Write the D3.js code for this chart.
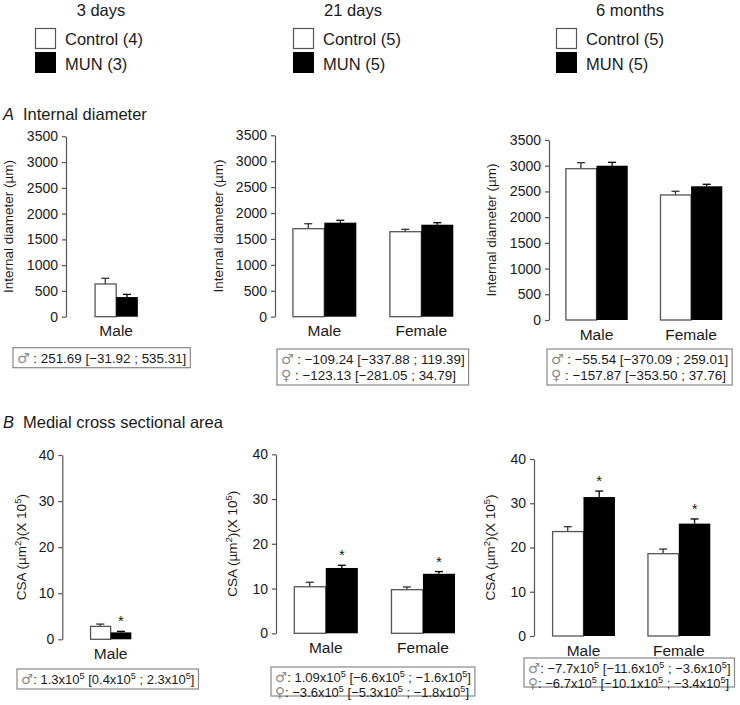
<!DOCTYPE html>
<html><head><meta charset="utf-8">
<script src="https://cdn.jsdelivr.net/npm/d3@7"></script>
<style>
body{margin:0;background:#fff}
text{font-family:"Liberation Sans",Arial,Helvetica,sans-serif;fill:#1a1a1a}
</style>
</head><body>
<svg id="chart" width="740" height="705"></svg>
<script>
// ---------------- DATA ----------------
const series = ["Control", "MUN"];
const timepoints = ["3 days", "21 days", "6 months"];
const legendControl = ["Control (4)", "Control (5)", "Control (5)"];
const legendMun = ["MUN (3)", "MUN (5)", "MUN (5)"];

const cats3d = ["Male"];
const cats21d = ["Male", "Female"];
const cats6m = ["Male", "Female"];

const idTicks = [0, 500, 1000, 1500, 2000, 2500, 3000, 3500];
const csaTicks = [0, 10, 20, 30, 40];

// Internal diameter (µm)
const idControl3d = [635];   const idControlErr3d = [110];
const idMun3d = [381];       const idMunErr3d = [52];
const idControl21d = [1698, 1640]; const idControlErr21d = [96, 46];
const idMun21d = [1814, 1775];     const idMunErr21d = [46, 39];
const idControl6m = [2942, 2431];  const idControlErr6m = [117, 72];
const idMun6m = [3000, 2600];      const idMunErr6m = [66, 39];

// Medial CSA (µm² x10^5)
const csaControl3d = [2.8];  const csaControlErr3d = [0.5];
const csaMun3d = [1.5];      const csaMunErr3d = [0.22];
const csaControl21d = [10.4, 9.75]; const csaControlErr21d = [1.0, 0.6];
const csaMun21d = [14.6, 13.3];     const csaMunErr21d = [0.6, 0.5];
const csaControl6m = [23.6, 18.6];  const csaControlErr6m = [1.1, 1.05];
const csaMun6m = [31.4, 25.4];      const csaMunErr6m = [1.35, 1.05];
const csaSig3d = [true];
const csaSig21d = [true, true];
const csaSig6m = [true, true];

const statsA3d = ["♂ : 251.69 [−31.92 ; 535.31]"];
const statsA21d = ["♂ : −109.24 [−337.88 ; 119.39]", "♀ : −123.13 [−281.05 ; 34.79]"];
const statsA6m = ["♂ : −55.54 [−370.09 ; 259.01]", "♀ : −157.87 [−353.50 ; 37.76]"];
const statsB3d = ["♂: 1.3x10^5 [0.4x10^5 ; 2.3x10^5]"];
const statsB21d = ["♂: 1.09x10^5 [−6.6x10^5 ; −1.6x10^5]", "♀: −3.6x10^5 [−5.3x10^5 ; −1.8x10^5]"];
const statsB6m = ["♂: −7.7x10^5 [−11.6x10^5 ; −3.6x10^5]", "♀: −6.7x10^5 [−10.1x10^5 ; −3.4x10^5]"];

const idLabel = "Internal diameter (µm)";
const csaLabel = "CSA (µm^2)(X 10^5)";
const titleA = ["A", "Internal diameter"];
const titleB = ["B", "Medial cross sectional area"];

// ---------------- DRAW ----------------
const svg = d3.select("#chart");

function rich(sel, str, fs) {
  const parts = str.split(/(\^\d|[♂♀])/).filter(s => s.length);
  let sup = false;
  parts.forEach(p => {
    if (p[0] === "^") {
      sel.append("tspan").attr("dy", -fs * 0.38).style("font-size", (fs * 0.7) + "px").text(p.slice(1));
      sup = true;
    } else if (p === "♂" || p === "♀") {
      const t = sel.append("tspan").attr("font-family", "DejaVu Sans").style("fill", "#8a8a8a")
        .style("font-size", (fs * 1.05) + "px").text(p);
      if (sup) { t.attr("dy", fs * 0.38); sup = false; }
    } else {
      const t = sel.append("tspan").text(p);
      if (sup) { t.attr("dy", fs * 0.38); sup = false; }
    }
  });
}

// Legends
const legX = [35, 293, 556];
const legTitleX = [101, 353, 630];
timepoints.forEach((tp, i) => {
  svg.append("text").attr("x", legTitleX[i]).attr("y", 16).attr("text-anchor", "middle")
    .style("font-size", "16.5px").text(tp);
  svg.append("rect").attr("x", legX[i] + 0.5).attr("y", 28.5).attr("width", 20).attr("height", 20)
    .attr("fill", "#fff").attr("stroke", "#555").attr("stroke-width", 1.2);
  svg.append("rect").attr("x", legX[i]).attr("y", 52).attr("width", 21).attr("height", 21).attr("fill", "#000");
  svg.append("text").attr("x", legX[i] + 30).attr("y", 45).style("font-size", "16.5px").text(legendControl[i]);
  svg.append("text").attr("x", legX[i] + 30).attr("y", 70).style("font-size", "16.5px").text(legendMun[i]);
});

// Section titles
function sectionTitle(t, y) {
  svg.append("text").attr("x", 3).attr("y", y).style("font-size", "16.5px").attr("font-style", "italic").text(t[0]);
  svg.append("text").attr("x", 23).attr("y", y).style("font-size", "16.5px").text(t[1]);
}
sectionTitle(titleA, 120);
sectionTitle(titleB, 428);

function panel(spec) {
  const g = svg.append("g");
  const y = d3.scaleLinear().domain([0, spec.max]).range([spec.y0, spec.y1]);
  const x = d3.scaleBand().domain(spec.cats).range(spec.xr).paddingInner(0.34).paddingOuter(0);
  const xs = d3.scaleBand().domain(series).range([0, x.bandwidth()]).padding(0);

  const ax = g.append("g").attr("transform", `translate(${spec.ax},0)`)
    .call(d3.axisLeft(y).tickValues(spec.ticks).tickFormat(d3.format("d"))
      .tickSize(4).tickPadding(4).tickSizeOuter(0));
  ax.attr("font-size", null).attr("font-family", null);
  ax.select(".domain").attr("stroke", "#555").attr("stroke-width", 1.2);
  ax.selectAll(".tick line").attr("stroke", "#555").attr("stroke-width", 1.2);
  ax.selectAll(".tick text").style("font-size", "14px").style("fill", "#1a1a1a");

  // y label
  const yl = g.append("text")
    .attr("transform", `translate(${spec.ax + spec.labOff},${(spec.y0 + spec.y1) / 2}) rotate(-90)`)
    .attr("text-anchor", "middle").style("font-size", "13.5px");
  rich(yl, spec.label, 13.5);

  const rows = [];
  spec.cats.forEach((c, i) => {
    rows.push({ c, s: "Control", v: spec.ctrl[i], e: spec.ctrlErr[i], sig: false });
    rows.push({ c, s: "MUN", v: spec.mun[i], e: spec.munErr[i], sig: spec.sig ? spec.sig[i] : false });
  });

  // error bars
  rows.forEach(d => {
    const cx = x(d.c) + xs(d.s) + xs.bandwidth() / 2;
    const col = d.s === "MUN" ? "#000" : "#333";
    g.append("line").attr("x1", cx).attr("x2", cx).attr("y1", y(d.v)).attr("y2", y(d.v + d.e))
      .attr("stroke", col).attr("stroke-width", 1.3);
    g.append("line").attr("x1", cx - 4).attr("x2", cx + 4).attr("y1", y(d.v + d.e)).attr("y2", y(d.v + d.e))
      .attr("stroke", col).attr("stroke-width", 1.3);
    if (d.sig) {
      g.append("text").attr("x", cx).attr("y", y(d.v + d.e) - 5).attr("text-anchor", "middle")
        .style("font-size", "15px").text("*");
    }
  });

  // bars
  rows.forEach(d => {
    const ctrl = d.s === "Control";
    g.append("rect")
      .attr("x", x(d.c) + xs(d.s) + (ctrl ? 0.6 : 0))
      .attr("y", y(d.v))
      .attr("width", xs.bandwidth() - (ctrl ? 0.6 : 0))
      .attr("height", y(0) - y(d.v))
      .attr("fill", ctrl ? "#fff" : "#000")
      .attr("stroke", ctrl ? "#555" : "#000").attr("stroke-width", ctrl ? 1.3 : 0);
  });

  // category labels
  spec.cats.forEach(c => {
    g.append("text").attr("x", x(c) + x.bandwidth() / 2).attr("y", spec.y0 + 19.5)
      .attr("text-anchor", "middle").style("font-size", "15.5px").text(c);
  });

  // stats box
  const sb = g.append("g");
  const fs = spec.statFs;
  const texts = spec.stats.map((s, i) => {
    const t = sb.append("text").attr("x", spec.box[0] + 4)
      .attr("y", spec.box[1] + spec.firstBase + i * spec.lineH)
      .style("font-size", fs + "px");
    rich(t, s, fs);
    return t;
  });
  const w = d3.max(texts, t => t.node().getComputedTextLength()) + 8;
  const h = spec.stats.length === 1 ? 20 : spec.boxH2;
  sb.insert("rect", "text").attr("x", spec.box[0]).attr("y", spec.box[1]).attr("width", w).attr("height", h)
    .attr("fill", "#fff").attr("stroke", "#888").attr("stroke-width", 1.2);
}

const boxA = { statFs: 13.4, firstBase: 15, lineH: 16, boxH2: 36 };
const boxB = { statFs: 13, firstBase: 14.5, lineH: 15, boxH2: 29 };

panel({ cats: cats3d, ctrl: idControl3d, ctrlErr: idControlErr3d, mun: idMun3d, munErr: idMunErr3d,
  max: 3500, ticks: idTicks, ax: 66, xr: [83.3, 149], y0: 316.7, y1: 136.3, label: idLabel, labOff: -53,
  stats: statsA3d, box: [13, 347.7], ...boxA });
panel({ cats: cats21d, ctrl: idControl21d, ctrlErr: idControlErr21d, mun: idMun21d, munErr: idMunErr21d,
  max: 3500, ticks: idTicks, ax: 275, xr: [292.3, 453.3], y0: 316.7, y1: 135.3, label: idLabel, labOff: -52,
  stats: statsA21d, box: [277, 349], ...boxA });
panel({ cats: cats6m, ctrl: idControl6m, ctrlErr: idControlErr6m, mun: idMun6m, munErr: idMunErr6m,
  max: 3500, ticks: idTicks, ax: 549, xr: [565.3, 722.3], y0: 320, y1: 140, label: idLabel, labOff: -53,
  stats: statsA6m, box: [547, 349], ...boxA });

panel({ cats: cats3d, ctrl: csaControl3d, ctrlErr: csaControlErr3d, mun: csaMun3d, munErr: csaMunErr3d, sig: csaSig3d,
  max: 40, ticks: csaTicks, ax: 62.3, xr: [79.3, 142], y0: 639.3, y1: 455, label: csaLabel, labOff: -36,
  stats: statsB3d, box: [17, 669], ...boxB });
panel({ cats: cats21d, ctrl: csaControl21d, ctrlErr: csaControlErr21d, mun: csaMun21d, munErr: csaMunErr21d, sig: csaSig21d,
  max: 40, ticks: csaTicks, ax: 276, xr: [293.7, 455], y0: 633.3, y1: 454.3, label: csaLabel, labOff: -39,
  stats: statsB21d, box: [271, 667], ...boxB });
panel({ cats: cats6m, ctrl: csaControl6m, ctrlErr: csaControlErr6m, mun: csaMun6m, munErr: csaMunErr6m, sig: csaSig6m,
  max: 40, ticks: csaTicks, ax: 534, xr: [552, 710.3], y0: 636, y1: 459, label: csaLabel, labOff: -39,
  stats: statsB6m, box: [524, 658], ...boxB });
</script>
</body></html>
